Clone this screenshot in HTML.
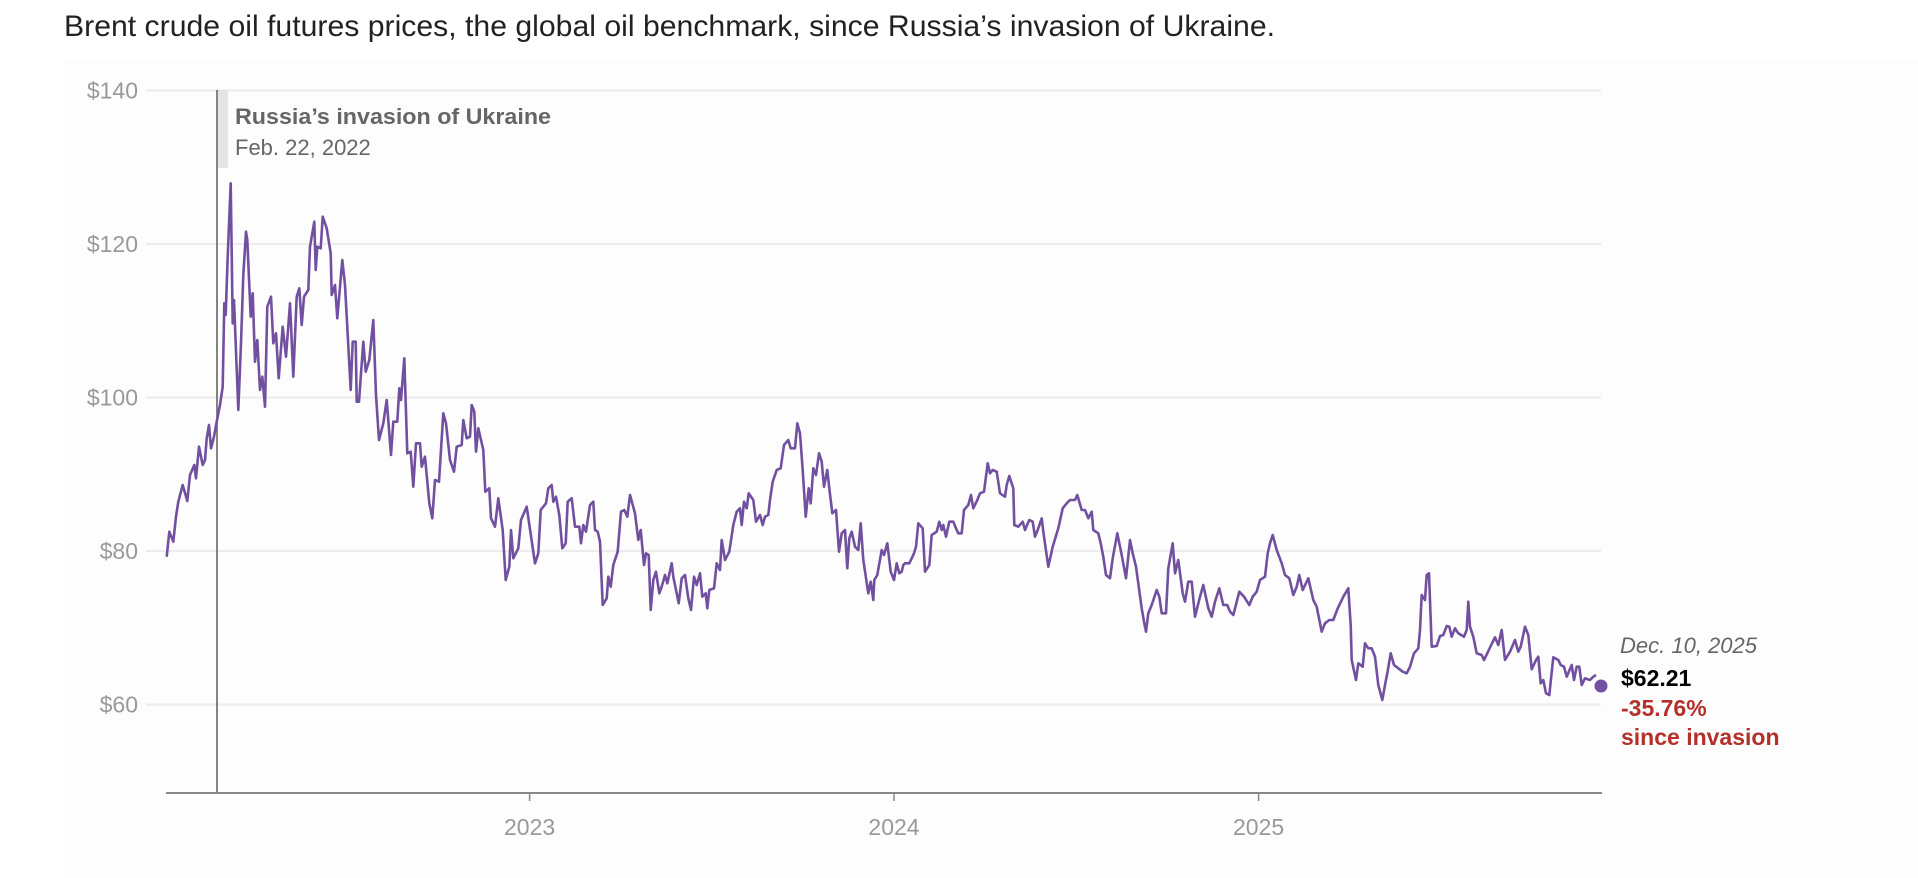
<!DOCTYPE html>
<html><head><meta charset="utf-8"><style>
html,body{margin:0;padding:0;background:#fff;}
svg{display:block;font-family:"Liberation Sans",Arial,sans-serif;}
</style></head><body>
<svg id="s" width="1918" height="878" viewBox="0 0 1918 878" xmlns="http://www.w3.org/2000/svg">
<rect x="0" y="0" width="1918" height="878" fill="#fff"/>
<rect x="64" y="60" width="1854" height="818" fill="#fdfdfd"/>
<text x="64" y="36" font-size="30" fill="#222" textLength="1211" lengthAdjust="spacingAndGlyphs">Brent crude oil futures prices, the global oil benchmark, since Russia’s invasion of Ukraine.</text>
<g stroke="#ececec" stroke-width="2">
<line x1="146" y1="90.5" x2="1601" y2="90.5"/>
<line x1="146" y1="244" x2="1601" y2="244"/>
<line x1="146" y1="397.5" x2="1601" y2="397.5"/>
<line x1="146" y1="551" x2="1601" y2="551"/>
<line x1="146" y1="704.5" x2="1601" y2="704.5"/>
</g>
<g font-size="23" fill="#999" text-anchor="end">
<text x="138" y="98.5">$140</text>
<text x="138" y="252">$120</text>
<text x="138" y="405.5">$100</text>
<text x="138" y="559">$80</text>
<text x="138" y="712.5">$60</text>
</g>
<rect x="218" y="90" width="10" height="78" fill="#e4e4e4"/>
<line x1="217" y1="90" x2="217" y2="793" stroke="#666" stroke-width="1.6"/>
<text x="235" y="124" font-size="22" font-weight="bold" fill="#666" textLength="316" lengthAdjust="spacingAndGlyphs">Russia’s invasion of Ukraine</text>
<text x="235" y="155" font-size="22" fill="#666">Feb. 22, 2022</text>
<line x1="166" y1="793" x2="1602" y2="793" stroke="#888" stroke-width="2"/>
<g stroke="#888" stroke-width="1.5">
<line x1="529.6" y1="793" x2="529.6" y2="801"/>
<line x1="894" y1="793" x2="894" y2="801"/>
<line x1="1258.6" y1="793" x2="1258.6" y2="801"/>
</g>
<g font-size="23" fill="#999" text-anchor="middle">
<text x="529.6" y="835">2023</text>
<text x="894" y="835">2024</text>
<text x="1258.6" y="835">2025</text>
</g>
<polyline id="pl" fill="none" stroke="#7250a0" stroke-width="2.6" stroke-linejoin="round" points=""/>
<circle cx="1601" cy="686" r="6.5" fill="#7250a0"/>
<text x="1620" y="653" font-size="22" font-style="italic" fill="#666">Dec. 10, 2025</text>
<text x="1621" y="686" font-size="23" font-weight="bold" fill="#000">$62.21</text>
<text x="1621" y="716" font-size="23" font-weight="bold" fill="#b5302a">-35.76%</text>
<text x="1621" y="745" font-size="23" font-weight="bold" fill="#b5302a">since invasion</text>
</svg>
<script>
var segs=[
[160,170,0,[20,1160,28,1085,40,1115,48,1040,55,995,68,945,82,993,90,915,103,885,108,925,117,830,128,885,135,870,140,805,147,765,153,835,162,800,170,755,180,705,188,650,193,400,197,435,203,260,212,40,218,460,222,390,235,720,243,520,250,315,258,185,262,210,272,440,278,370,285,575,292,510,300,660,307,620,315,710,322,410,333,380,340,520,348,490,356,625,368,470,378,560,390,400,400,620,410,380,418,355,425,465,432,380,445,360,450,230,463,155,467,300,472,230,482,235,488,140,500,175,512,250,515,375,525,345,532,445,547,270,555,345,572,660,578,515,587,515,590,695,597,695,610,515,617,605,628,570,640,450,648,675,657,810,670,760,680,690,693,855,700,755,712,755,718,655,723,690,733,565,742,850,752,845,760,950,768,820,780,820,785,890,795,860,808,1000,817,1045,825,930,837,935,850,730,858,760,870,870,882,905,890,830,905,825,910,750,920,805,930,800,935,705,943,725,948,845,955,775,970,840,976,965,988,955,993,1045,1005,1070,1015,985,1028,1080,1037,1230,1048,1190,1053,1080,1060,1165,1075,1135,1083,1050,1100,1010]],
[520,400,0,[45,490,55,460,62,330,78,310,85,265,95,255,100,305,108,290,118,345,127,445,137,430,143,305,155,295,165,380,178,380,183,430,190,375,198,395,210,315,220,305,225,390,233,395,240,425,248,615,260,595,265,530,272,560,280,495,293,455,303,335,313,330,322,350,330,285,345,340,355,420,362,390,372,495,378,460,386,465,392,630,400,540,408,515,418,580,425,560,435,525,442,550,455,490,460,530,476,610,485,535,495,525,505,595,513,630,522,530,530,555,540,520,547,590,557,580,562,625,568,570,582,565,590,490,600,510,605,420,615,480,628,455,640,375,650,335,660,325,665,375,672,305,680,325,686,280,700,300,708,365,720,345,728,375,735,350,745,345,750,300,758,245,770,210,782,205,792,135,805,120,812,145,825,145,832,70,840,100,848,210,857,350,866,265,872,310,880,205,888,225,897,160,905,185,912,260,922,210,928,265,937,340,948,330,957,455,965,400,975,390,982,505,988,415,995,395,1005,440,1015,450,1022,370,1030,480,1045,580,1052,545,1060,600,1063,540,1072,525,1085,450,1092,465,1102,430,1112,515,1122,540,1130,490,1138,520]],
[890,440,0,[35,395,40,375,45,370,58,370,65,355,72,340,78,320,85,250,98,265,105,395,118,375,125,285,140,275,148,245,155,270,160,255,168,290,178,245,190,245,198,265,205,280,215,280,222,210,235,195,243,165,250,205,262,180,270,160,282,155,293,70,300,100,308,90,320,95,330,160,345,170,350,135,358,108,370,145,373,255,385,260,398,245,405,270,418,240,428,245,435,290,443,270,455,235,460,275,475,380,488,320,505,265,518,205,530,190,540,180,555,180,562,165,575,210,585,210,595,235,605,215,610,270,625,280,632,310,640,350,648,405,660,415,668,355,682,280,695,345,708,415,720,300,728,340,738,380,755,505,762,545,768,575,775,520,785,495,800,450,808,470,815,520,828,520,835,385,848,310,855,400,865,360,878,460,885,485,895,425,905,425,915,530,930,470,940,435,955,505,965,530,975,485,988,445,1000,495,1012,495,1020,515,1030,525,1048,455,1062,470,1078,495,1088,470,1100,455,1110,420,1125,410,1133,340,1140,310]],
[1260,520,0,[38,45,50,90,65,130,75,165,88,175,100,225,110,200,118,165,128,210,145,175,160,240,170,260,185,335,195,310,208,300,220,300,232,268,250,230,265,205,272,315,275,420,288,480,295,430,308,440,315,370,325,385,335,385,345,410,355,495,367,540,375,495,382,460,392,400,402,435,415,445,428,455,440,460,450,440,462,400,475,385,480,330,485,225,495,240,500,165,507,160,515,380,530,378,540,348,550,345,560,318,568,320,575,350,585,325,595,340,612,350,620,330,625,245,630,320,640,350,650,400,665,405,672,420,682,400,692,378,705,352,715,375,725,330,735,420,750,395,765,360,775,395,782,380,795,320,805,345,815,448,828,420,835,410,842,490,850,480,858,520,868,525,880,412,895,420,902,435,912,440,920,470,935,435,942,480,950,440,958,440,965,495,975,475,990,480,1000,470,1008,465]]
];
var pts=[];
segs.forEach(function(s){var a=s[3];for(var i=0;i<a.length;i+=2){pts.push((s[0]+a[i]/3).toFixed(1)+","+(s[1]+a[i+1]/3).toFixed(1));}});
document.getElementById("pl").setAttribute("points",pts.join(" "));
</script>
</body></html>
